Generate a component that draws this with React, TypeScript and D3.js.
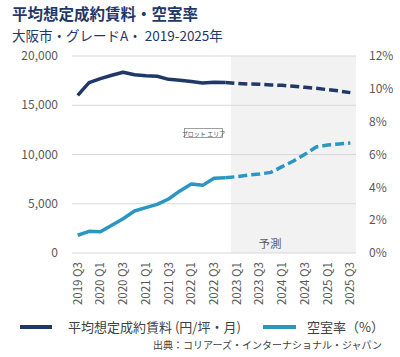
import React from "react";
import * as d3 from "d3";

const quarters = [
  "2019 Q3","2019 Q4","2020 Q1","2020 Q2","2020 Q3","2020 Q4","2021 Q1","2021 Q2","2021 Q3","2021 Q4",
  "2022 Q1","2022 Q2","2022 Q3","2022 Q4","2023 Q1","2023 Q2","2023 Q3","2023 Q4","2024 Q1","2024 Q2",
  "2024 Q3","2024 Q4","2025 Q1","2025 Q2","2025 Q3",
];
const rent = [
  16000, 17300, 17700, 18050, 18350, 18100, 18000, 17950, 17630, 17530,
  17400, 17270, 17330, 17300, 17230, 17160, 17130, 17060, 17020, 16920,
  16820, 16720, 16580, 16450, 16280,
];
const vacancy = [
  1.08, 1.32, 1.3, 1.69, 2.09, 2.56, 2.76, 2.96, 3.29, 3.78,
  4.2, 4.12, 4.55, 4.59, 4.65, 4.75, 4.81, 4.91, 5.26, 5.6,
  6.01, 6.46, 6.58, 6.64, 6.7,
];
const actualEnd = 13; // last actual quarter index (2022 Q4)
const leftTicks = [0, 5000, 10000, 15000, 20000];
const rightTicks = [0, 2, 4, 6, 8, 10, 12];

const FONT = "'Noto Sans CJK JP', 'Open Sans', sans-serif";
const NAVY = "#1f3868";
const CYAN = "#2b96c2";

export default function App() {
  const W = 400, H = 357;
  const left = 72, right = 356, top = 56, bottom = 253;
  const x = d3.scaleBand<string>().domain(quarters).range([left, right]);
  const cx = (i: number) => (x(quarters[i]) as number) + x.bandwidth() / 2;
  const yL = d3.scaleLinear().domain([0, 20000]).range([bottom, top]);
  const yR = d3.scaleLinear().domain([0, 12]).range([bottom, top]);

  const idx = quarters.map((_, i) => i);
  const actIdx = idx.filter((i) => i <= actualEnd);
  const fcIdx = idx.filter((i) => i >= actualEnd);

  const mkPath = (vals: number[], ids: number[], y: (v: number) => number) =>
    d3.line<number>().x((i) => cx(i)).y((i) => y(vals[i]))(ids) || "";

  const shadeX = x(quarters[actualEnd + 1]) as number;

  return (
    <svg width={W} height={H} style={{ position: "absolute", left: 0, top: 0, background: "#fff" }} fontFamily={FONT}>
      <text x={12} y={20} fontSize={15.5} fontWeight={700} fill={NAVY}>平均想定成約賃料・空室率</text>
      <text x={12} y={41} fontSize={13.5} fill={NAVY}>大阪市・グレードA・ 2019-2025年</text>

      <rect x={shadeX} y={top} width={right - shadeX} height={bottom - top} fill="#f2f2f2" />

      {leftTicks.map((t) => (
        <g key={t}>
          <line x1={left} x2={right} y1={yL(t)} y2={yL(t)} stroke="#d9d9d9" strokeWidth={1} />
          <text x={58} y={yL(t)} dy="0.35em" textAnchor="end" fontSize={12} fill="#595959">
            {d3.format(",")(t)}
          </text>
        </g>
      ))}
      {rightTicks.map((t) => (
        <text key={t} x={369} y={yR(t)} dy="0.35em" fontSize={12} fill="#595959">
          {t}%
        </text>
      ))}

      <text x={270} y={248} textAnchor="middle" fontSize={11.5} fill="#595959">予測</text>

      <rect x={184.5} y={128.5} width={38} height={9} fill="#fff" stroke="#888" strokeWidth={0.8} />
      <text x={203.5} y={135.5} textAnchor="middle" fontSize={6} fill="#555">プロット エリア</text>

      <path d={mkPath(rent, actIdx, yL)} fill="none" stroke={NAVY} strokeWidth={3.5} strokeLinejoin="round" />
      <path d={mkPath(rent, fcIdx, yL)} fill="none" stroke={NAVY} strokeWidth={3.5} strokeDasharray="9,4" />
      <path d={mkPath(vacancy, actIdx, yR)} fill="none" stroke={CYAN} strokeWidth={3.5} strokeLinejoin="round" />
      <path d={mkPath(vacancy, fcIdx, yR)} fill="none" stroke={CYAN} strokeWidth={3.5} strokeDasharray="9,4" />

      {quarters.map((q, i) =>
        i % 2 === 0 ? (
          <text
            key={q}
            transform={`translate(${cx(i)},${262}) rotate(-90)`}
            textAnchor="end"
            dy="0.35em"
            fontSize={11.5}
            fill="#595959"
          >
            {q}
          </text>
        ) : null
      )}

      <line x1={20} x2={52} y1={327} y2={327} stroke={NAVY} strokeWidth={4} />
      <text x={68} y={327} dy="0.35em" fontSize={13} fill="#404040">平均想定成約賃料 (円/坪・月)</text>
      <line x1={263} x2={296} y1={327} y2={327} stroke={CYAN} strokeWidth={4} />
      <text x={307} y={327} dy="0.35em" fontSize={13} fill="#404040">空室率（%）</text>

      <text x={382} y={349} textAnchor="end" fontSize={10} fill="#404040">出典：コリアーズ・インターナショナル・ジャパン</text>
    </svg>
  );
}
